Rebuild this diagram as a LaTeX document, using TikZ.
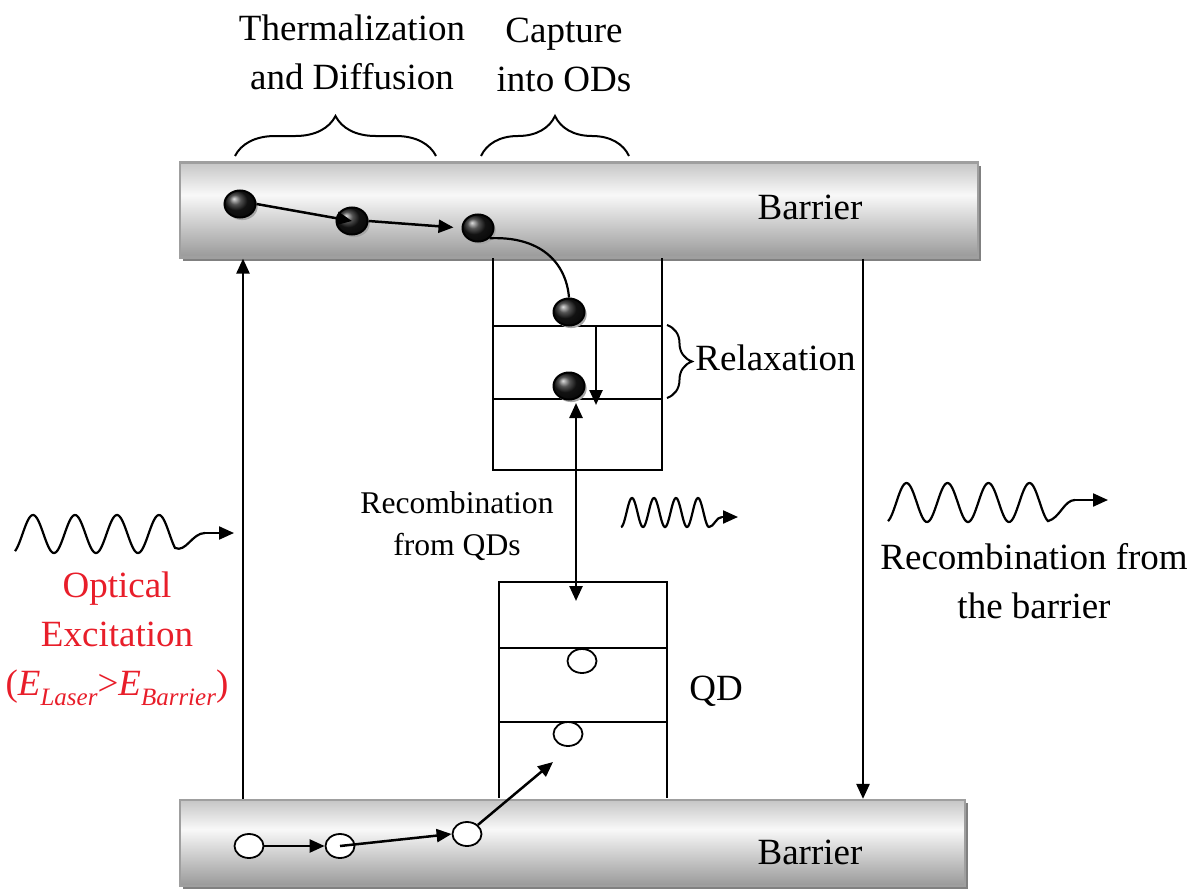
\documentclass[tikz,border=0pt]{standalone}
\usepackage{fontspec}
\setmainfont{Liberation Serif}
\usetikzlibrary{arrows.meta,shapes.geometric,shadows,decorations.pathreplacing}
\pgfdeclareverticalshading{bargrad}{100bp}{color(0bp)=(gray!80); color(25bp)=(gray!80); color(58bp)=(gray!5); color(75bp)=(gray!45); color(100bp)=(gray!45)}
\definecolor{optred}{RGB}{232,30,42}
\begin{document}
\begin{tikzpicture}[x=0.5pt,y=-0.5pt,
  bar/.style={draw=gray!75, line width=1.1pt, shading=bargrad, inner sep=0pt,
    drop shadow={shadow xshift=1.6pt, shadow yshift=-1.6pt, fill=black!50, opacity=1}},
  elec/.style={ellipse, draw=black, line width=1pt, minimum width=15.5pt, minimum height=13.5pt, inner sep=0pt,
    ball color=black!90, drop shadow={shadow xshift=1.1pt, shadow yshift=-1.3pt, fill=gray!70, opacity=1}},
  hole/.style={ellipse, draw=black, line width=0.9pt, fill=white, minimum width=14.5pt, minimum height=12pt, inner sep=0pt},
  tip/.tip={Triangle[length=7.5pt,width=6.5pt]},
  arr/.style={-tip, line width=1.25pt},
  dblarr/.style={tip-tip, line width=1.25pt},
  wall/.style={line width=1.1pt},
  wavy/.style={line width=1.1pt},
  bigtxt/.style={font=\fontsize{18.5}{24.5}\selectfont, align=center, inner sep=0pt},
  smalltxt/.style={font=\fontsize{15.8}{21}\selectfont, align=center, inner sep=0pt},
  brc/.style={decorate, line width=1pt}
]
\useasboundingbox (0,0) rectangle (1198,888);

% barriers
\node[bar, minimum width=399pt, minimum height=47.5pt] (topbar) at (579,210) {};
\node[bar, minimum width=392.5pt, minimum height=43pt] (botbar) at (572.5,843) {};
\node[bigtxt] (toplbl) at (810,207) {Barrier};
\node[bigtxt] (botlbl) at (810,852) {Barrier};

% upper well (capture / relaxation)
\draw[wall] (493,258) -- (493,470) -- (662,470) -- (662,258);
\draw[wall] (493,326) -- (662,326);
\draw[wall] (493,399) -- (662,399);

% QD well
\draw[wall] (499,798) -- (499,582) -- (667,582) -- (667,798);
\draw[wall] (499,648) -- (667,648);
\draw[wall] (499,722) -- (667,722);

% vertical transitions
\draw[arr] (243,0 |- botbar.north) -- (243,0 |- topbar.south);
\draw[arr] (863,0 |- topbar.south) -- (863,0 |- botbar.north);

% electrons
\node[elec] (e1) at (240,204) {};
\node[elec] (e2) at (352,221) {};
\node[elec] (e3) at (478,228) {};
\node[elec] (e4) at (569,312) {};
\node[elec] (e5) at (569,386) {};

\draw[arr] (e1.east) -- (e2.center);
\draw[arr, shorten >=4pt] (e2.east) -- (e3.west);
\draw[line width=1.1pt] (e3.south east) .. controls (540,236) and (566,262) .. (e4.north);

\coordinate (rtop) at (596,326);
\coordinate (rbot) at (596,405);
\draw[arr] (rtop) -- (rbot);

% recombination double arrow
\coordinate (dtop) at (576,403);
\coordinate (dbot) at (576,601);
\draw[dblarr] (dtop) -- (dbot);

% holes
\node[hole] (q1) at (582,661) {};
\node[hole] (q2) at (568,734) {};
\node[hole] (h1) at (249,846) {};
\node[hole] (h2) at (340,846) {};
\node[hole] (h3) at (467,834) {};
\coordinate (hend) at (553,762);
\draw[arr] (h1.east) -- (h2.west);
\draw[arr] (h2.center) -- (h3.west);
\draw[arr] (h3.north east) -- (hend);

% braces
\draw[brc, decoration={brace, amplitude=20pt}] (235,156) -- (436,156);
\draw[brc, decoration={brace, amplitude=20pt}] (481,156) -- (629,156);
\draw[brc, decoration={brace, amplitude=12.5pt}] (667,325) -- (667,398);

% labels
\node[bigtxt] (therm) at (352,52) {Thermalization\\and Diffusion};
\node[bigtxt] (capt) at (564,55) {Capture\\into ODs};
\node[bigtxt, anchor=west] (relax) at (695,358) {Relaxation};
\node[smalltxt] (recqd) at (457,526) {Recombination\\from QDs};
\node[bigtxt] (qd) at (716,691) {QD};
\node[bigtxt] (recbar) at (1034,581) {Recombination from\\the barrier};
\node[bigtxt, text=optred] (opt) at (117,639) {Optical\\Excitation\\(\textit{E\raisebox{-0.28em}{\fontsize{12.5}{14}\selectfont Laser}}>\textit{E\raisebox{-0.28em}{\fontsize{12.5}{14}\selectfont Barrier}})};

% photons
\coordinate (w1end) at (234,533);
\draw[wavy] plot[domain=15:175, samples=140, smooth] (\x,{534+19*cos(360/42*(\x-12))})
   .. controls (186,553) and (192,533) .. (205,533);
\draw[arr, line width=1.1pt] (205,533) -- (w1end);

\coordinate (w2end) at (738,517);
\draw[wavy] plot[domain=621:709, samples=120, smooth] (\x,{512.5+14.5*cos(360/22*(\x-621))})
   .. controls (714,527) and (716,517) .. (722,517);
\draw[arr, line width=1.1pt] (722,517) -- (w2end);

\coordinate (w3end) at (1108,500);
\draw[wavy] plot[domain=888:1048, samples=140, smooth] (\x,{502.5+19.5*cos(360/41*(\x-886))})
   .. controls (1060,518) and (1064,500) .. (1075,500);
\draw[arr, line width=1.1pt] (1075,500) -- (w3end);
\end{tikzpicture}
\end{document}
